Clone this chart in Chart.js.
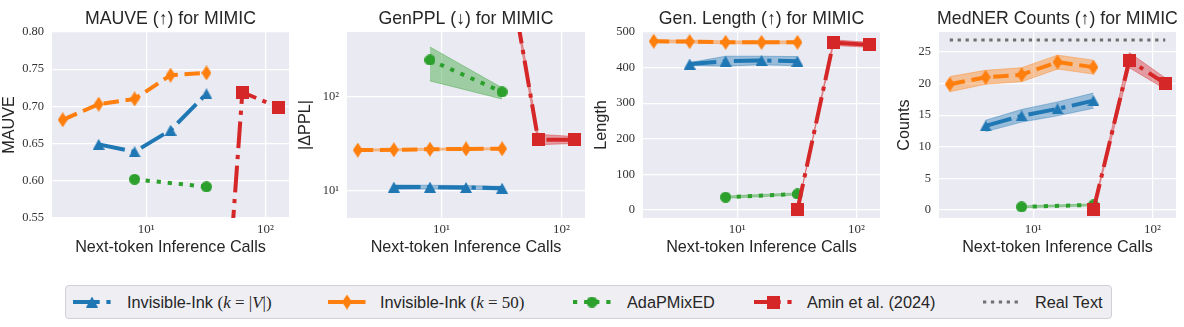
<!DOCTYPE html>
<html>
<head>
<meta charset="utf-8">
<script src="https://cdn.jsdelivr.net/npm/chart.js@4.4.1/dist/chart.umd.min.js"></script>
<style>
  body { margin: 0; background: #fff; width: 1184px; height: 327px; position: relative; overflow: hidden; font-family: "Liberation Sans", sans-serif; }
  canvas.panel { position: absolute; top: 0; }
  #legend { position: absolute; left: 65px; top: 285px; width: 1045px; height: 32px; background: #eeeef3; border: 1px solid #d0d0d6; border-radius: 4px; }
  .entry { position: absolute; top: 0; height: 32px; line-height: 32px; font-size: 16.3px; color: #262626; white-space: nowrap; }
  .handle { position: absolute; top: 6px; }
  .m { font-family: "Liberation Serif", serif; font-size: 17px; }
</style>
</head>
<body>
<canvas class="panel" id="c1" width="299" height="260" style="left:0px"></canvas>
<canvas class="panel" id="c2" width="299" height="260" style="left:296px"></canvas>
<canvas class="panel" id="c3" width="298" height="260" style="left:592px"></canvas>
<canvas class="panel" id="c4" width="291" height="260" style="left:895px"></canvas>
<div id="legend"></div>
<script>
// x positions (next-token inference calls) per method
const xInkV = [4, 8, 16, 32];
const xInk50 = [2, 4, 8, 16, 32];
const xAda = [8, 32];
const xAmin = [32, 64, 128];
const xReal = [2, 128];

// MAUVE
const mauveInkV = [0.649, 0.639, 0.668, 0.717];
const mauveInk50 = [0.682, 0.703, 0.710, 0.742, 0.745];
const mauveAda = [0.602, 0.592];
const mauveAmin = [0.05, 0.719, 0.699];

// GenPPL |dPPL| (mean, low, high)
const pplInkV = [11.0, 11.0, 10.9, 10.7];
const pplInkVLo = [10.4, 10.5, 10.4, 10.2];
const pplInkVHi = [11.6, 11.5, 11.4, 11.2];
const pplInk50 = [27.2, 27.4, 27.8, 28.0, 28.1];
const pplInk50Lo = [26.5, 26.7, 27.1, 27.3, 27.4];
const pplInk50Hi = [27.9, 28.1, 28.5, 28.7, 28.8];
const pplAda = [247, 113];
const pplAdaLo = [148, 95];
const pplAdaHi = [340, 125];
const pplAmin = [6000, 35, 35];
const pplAminLo = [5200, 31, 32];
const pplAminHi = [6800, 40, 38];

// Gen. Length
const lenInkV = [410, 418, 420, 418];
const lenInkVLo = [406, 404, 408, 405];
const lenInkVHi = [414, 432, 432, 431];
const lenInk50 = [474, 473, 471, 471, 471];
const lenInk50Lo = [470, 469, 467, 467, 467];
const lenInk50Hi = [478, 477, 475, 475, 475];
const lenAda = [36, 45];
const lenAdaLo = [33, 42];
const lenAdaHi = [39, 48];
const lenAmin = [0, 470, 464];
const lenAminLo = [0, 462, 457];
const lenAminHi = [2, 478, 471];

// MedNER counts
const nerInkV = [13.3, 14.9, 16.0, 17.3];
const nerInkVLo = [12.4, 13.9, 14.9, 16.1];
const nerInkVHi = [14.2, 15.9, 17.1, 18.5];
const nerInk50 = [19.9, 21.0, 21.4, 23.4, 22.6];
const nerInk50Lo = [18.7, 19.9, 20.3, 22.3, 21.5];
const nerInk50Hi = [21.1, 22.1, 22.5, 24.5, 23.7];
const nerAda = [0.5, 0.8];
const nerAdaLo = [0.35, 0.65];
const nerAdaHi = [0.65, 0.95];
const nerAmin = [0.0, 23.7, 20.0];
const nerAminLo = [0.0, 22.5, 19.1];
const nerAminHi = [0.3, 24.9, 20.9];
const nerReal = [26.9, 26.9];

const seriesLabels = [
  'Invisible-Ink <span class="m">(<i>k</i> = |<i>V</i>|)</span>',
  'Invisible-Ink <span class="m">(<i>k</i> = 50)</span>',
  'AdaPMixED',
  'Amin et al. (2024)',
  'Real Text'
];
const xLabel = 'Next-token Inference Calls';

const sans = '"Liberation Sans"';
const serif = '"Liberation Serif"';

const styles = {
  inkV: { color: '#1f77b4', rgb: '31,119,180', dash: [26.7, 6.7, 4.2, 6.7], marker: 'tri', order: 4 },
  ink50: { color: '#ff7f0e', rgb: '255,127,14', dash: [15.4, 6.7], marker: 'dia', order: 3 },
  ada: { color: '#2ca02c', rgb: '44,160,44', dash: [4.2, 6.9], marker: 'circ', order: 2 },
  amin: { color: '#d62728', rgb: '214,39,40', dash: [26.7, 6.7, 4.2, 6.7], marker: 'sq', order: 1 },
  real: { color: '#707070', rgb: '112,112,112', dash: [3.3, 4.6], marker: null, width: 3, order: 0 }
};
const legendKeys = ['inkV', 'ink50', 'ada', 'amin', 'real'];

function makeMarker(kind, color) {
  const c = document.createElement('canvas');
  const size = { tri: [12, 11], dia: [10, 15], circ: [11, 11], sq: [13, 13] }[kind];
  c.width = size[0]; c.height = size[1];
  const g = c.getContext('2d');
  const w = size[0], h = size[1];
  g.fillStyle = color;
  g.beginPath();
  if (kind === 'tri') { g.moveTo(w / 2, 0); g.lineTo(w, h); g.lineTo(0, h); }
  else if (kind === 'dia') { g.moveTo(w / 2, 0); g.lineTo(w, h / 2); g.lineTo(w / 2, h); g.lineTo(0, h / 2); }
  else if (kind === 'circ') { g.arc(w / 2, h / 2, w / 2, 0, Math.PI * 2); }
  else { g.rect(0, 0, w, h); }
  g.closePath();
  g.fill();
  return c;
}
const markers = {};
for (const k of legendKeys) {
  const s = styles[k];
  if (s.marker) markers[k] = makeMarker(s.marker, s.color);
}

function pts(xs, ys) { return xs.map((x, i) => ({ x: x, y: ys[i] })); }

function lineDs(key, xs, ys) {
  const s = styles[key];
  return {
    data: pts(xs, ys),
    borderColor: s.color,
    borderWidth: s.width || 4,
    borderDash: s.dash,
    borderCapStyle: 'butt',
    borderJoinStyle: 'round',
    pointStyle: s.marker ? markers[key] : false,
    pointRadius: s.marker ? 6 : 0,
    fill: false,
    tension: 0,
    order: s.order
  };
}

function bandDs(key, xs, lo, hi) {
  const s = styles[key];
  const edge = 'rgba(' + s.rgb + ',0.4)';
  return [
    { data: pts(xs, lo), borderColor: edge, borderWidth: 1, pointRadius: 0, fill: false, order: 10 },
    { data: pts(xs, hi), borderColor: edge, borderWidth: 1, pointRadius: 0, fill: '-1', backgroundColor: 'rgba(' + s.rgb + ',0.4)', order: 10 }
  ];
}

// axes background, panel title and x-axis title centred on the plot area
const areaBg = {
  id: 'areaBg',
  beforeDraw(chart) {
    const a = chart.chartArea, ctx = chart.ctx;
    ctx.save();
    ctx.fillStyle = '#eaeaf2';
    ctx.fillRect(a.left, a.top, a.right - a.left, a.bottom - a.top);
    ctx.restore();
  },
  afterDraw(chart, args, opts) {
    const a = chart.chartArea, ctx = chart.ctx;
    const cx = (a.left + a.right) / 2;
    ctx.save();
    ctx.fillStyle = '#262626';
    ctx.textAlign = 'center';
    ctx.textBaseline = 'middle';
    ctx.font = '17.7px ' + sans;
    ctx.fillText(opts.title, cx, 19);
    ctx.font = '16.2px ' + sans;
    ctx.fillText(xLabel, cx, 248);
    ctx.restore();
  }
};

const supLabel = v => (Math.abs(v - 10) < 1e-6 ? '10¹' : Math.abs(v - 100) < 1e-6 ? '10²' : '');

function makePanel(id, title, yLabel, axisW, yScale, yTicks, yFmt, datasets) {
  new Chart(document.getElementById(id), {
    type: 'line',
    data: { datasets: datasets },
    plugins: [areaBg],
    options: {
      responsive: false,
      devicePixelRatio: 1,
      animation: false,
      events: [],
      layout: { padding: { top: 32, left: 0, right: 0, bottom: 0 } },
      plugins: { legend: { display: false }, tooltip: { enabled: false }, areaBg: { title: title } },
      scales: {
        x: {
          type: 'logarithmic',
          min: 1.6255,
          max: 157.4,
          afterBuildTicks: s => { s.ticks = [{ value: 10 }, { value: 100 }]; },
          afterFit: s => { s.height = 42; s.paddingLeft = 0; s.paddingRight = 0; },
          ticks: { callback: supLabel, font: { family: serif, size: 13 }, color: '#333', padding: 4, maxRotation: 0, autoSkip: false },
          grid: { color: '#ffffff', lineWidth: 1.2, drawTicks: false },
          border: { display: false }
        },
        y: Object.assign({
          afterBuildTicks: s => { s.ticks = yTicks.map(v => ({ value: v })); },
          afterFit: s => { s.width = axisW; s.paddingTop = 0; s.paddingBottom = 0; },
          ticks: { callback: yFmt, font: { family: serif, size: 12.5 }, color: '#333', padding: 8, autoSkip: false },
          grid: { color: '#ffffff', lineWidth: 1.2, drawTicks: false },
          border: { display: false },
          title: { display: true, text: yLabel, font: { family: sans, size: 16.2 }, color: '#262626', padding: { top: 0, bottom: 0 } }
        }, yScale)
      }
    }
  });
}

makePanel('c1', 'MAUVE (↑) for MIMIC', 'MAUVE', 52,
  { type: 'linear', min: 0.55, max: 0.80 },
  [0.55, 0.60, 0.65, 0.70, 0.75, 0.80], v => v.toFixed(2),
  [
    lineDs('inkV', xInkV, mauveInkV),
    lineDs('ink50', xInk50, mauveInk50),
    lineDs('ada', xAda, mauveAda),
    lineDs('amin', xAmin, mauveAmin)
  ]);

makePanel('c2', 'GenPPL (↓) for MIMIC', '|ΔPPL|', 51,
  { type: 'logarithmic', min: 5.16, max: 490 },
  [10, 100], supLabel,
  [
    ...bandDs('inkV', xInkV, pplInkVLo, pplInkVHi),
    ...bandDs('ink50', xInk50, pplInk50Lo, pplInk50Hi),
    ...bandDs('ada', xAda, pplAdaLo, pplAdaHi),
    ...bandDs('amin', xAmin, pplAminLo, pplAminHi),
    lineDs('inkV', xInkV, pplInkV),
    lineDs('ink50', xInk50, pplInk50),
    lineDs('ada', xAda, pplAda),
    lineDs('amin', xAmin, pplAmin)
  ]);

makePanel('c3', 'Gen. Length (↑) for MIMIC', 'Length', 51,
  { type: 'linear', min: -22.5, max: 500 },
  [0, 100, 200, 300, 400, 500], v => String(v),
  [
    ...bandDs('inkV', xInkV, lenInkVLo, lenInkVHi),
    ...bandDs('ink50', xInk50, lenInk50Lo, lenInk50Hi),
    ...bandDs('ada', xAda, lenAdaLo, lenAdaHi),
    ...bandDs('amin', xAmin, lenAminLo, lenAminHi),
    lineDs('inkV', xInkV, lenInkV),
    lineDs('ink50', xInk50, lenInk50),
    lineDs('ada', xAda, lenAda),
    lineDs('amin', xAmin, lenAmin)
  ]);

makePanel('c4', 'MedNER Counts (↑) for MIMIC', 'Counts', 44,
  { type: 'linear', min: -1.27, max: 28.16 },
  [0, 5, 10, 15, 20, 25], v => String(v),
  [
    ...bandDs('inkV', xInkV, nerInkVLo, nerInkVHi),
    ...bandDs('ink50', xInk50, nerInk50Lo, nerInk50Hi),
    ...bandDs('ada', xAda, nerAdaLo, nerAdaHi),
    ...bandDs('amin', xAmin, nerAminLo, nerAminHi),
    lineDs('inkV', xInkV, nerInkV),
    lineDs('ink50', xInk50, nerInk50),
    lineDs('ada', xAda, nerAda),
    lineDs('amin', xAmin, nerAmin),
    lineDs('real', xReal, nerReal)
  ]);

// legend
const legend = document.getElementById('legend');
const handleLeft = [73, 328, 573, 754, 983];
const textLeft = [127, 380, 627, 807, 1035];
legendKeys.forEach((k, i) => {
  const s = styles[k];
  const c = document.createElement('canvas');
  c.className = 'handle';
  c.width = 38; c.height = 20;
  c.style.left = (handleLeft[i] - 66) + 'px';
  const g = c.getContext('2d');
  g.strokeStyle = s.color;
  g.lineWidth = s.width || 4;
  g.lineCap = 'butt';
  g.setLineDash(s.dash);
  g.beginPath(); g.moveTo(0, 10); g.lineTo(38, 10); g.stroke();
  if (s.marker) {
    const m = markers[k];
    g.drawImage(m, 19 - m.width / 2, 10 - m.height / 2);
  }
  legend.appendChild(c);
  const t = document.createElement('div');
  t.className = 'entry';
  t.style.left = (textLeft[i] - 66) + 'px';
  t.innerHTML = seriesLabels[i];
  legend.appendChild(t);
});
</script>
</body>
</html>
